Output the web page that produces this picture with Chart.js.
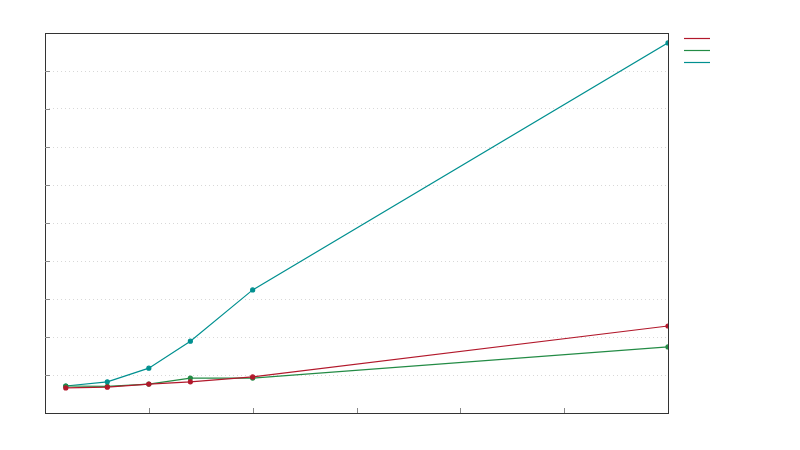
<!DOCTYPE html><html><head><script src="https://cdn.jsdelivr.net/npm/chart.js@4"></script>
<style>body{margin:0}#w{width:800px;height:450px}</style></head><body><div id="w"><canvas id="c"></canvas></div><script>
const xValues=[2,6,10,14,20,60];
const teal=[0.71,0.82,1.18,1.89,3.24,9.74];
const red=[0.66,0.68,0.76,0.82,0.95,2.29];
const green=[0.71,0.70,0.76,0.92,0.92,1.74];
const names=['','',''];
const colors=['#b2182b','#238b45','#009090'];
const mk=(d,c,n)=>({label:n,data:d.map((v,i)=>({x:xValues[i],y:v})),borderColor:c,backgroundColor:c,borderWidth:1.2,pointRadius:2,pointHoverRadius:2});
const deco={id:'deco',afterDraw(ch){const ctx=ch.ctx,a=ch.chartArea;ctx.save();ctx.strokeStyle='#333';ctx.lineWidth=1;ctx.strokeRect(a.left+.5,a.top+.5,a.right-a.left,a.bottom-a.top);
const xs=ch.scales.x,ys=ch.scales.y;ctx.strokeStyle='#888';
for(let v=10;v<60;v+=10){const p=Math.round(xs.getPixelForValue(v))+.5;ctx.beginPath();ctx.moveTo(p,a.bottom);ctx.lineTo(p,a.bottom-5);ctx.stroke();}
for(let v=1;v<10;v++){const p=Math.round(ys.getPixelForValue(v))+.5;ctx.beginPath();ctx.moveTo(a.left,p);ctx.lineTo(a.left+5,p);ctx.stroke();}
colors.forEach((c,i)=>{ctx.strokeStyle=c;ctx.lineWidth=1.2;ctx.beginPath();ctx.moveTo(684,38.5+12*i);ctx.lineTo(710,38.5+12*i);ctx.stroke();});
ctx.restore();}};
new Chart(document.getElementById('c'),{type:'line',data:{datasets:[mk(red,colors[0],names[0]),mk(green,colors[1],names[1]),mk(teal,colors[2],names[2])]},
options:{responsive:true,maintainAspectRatio:false,animation:false,layout:{padding:{left:45,right:132,top:33,bottom:29}},
plugins:{legend:{display:false},tooltip:{enabled:false}},
scales:{x:{type:'linear',min:0,max:60,ticks:{display:false,stepSize:10},grid:{display:false},border:{display:false}},
y:{min:0,max:10,ticks:{display:false,stepSize:1},grid:{color:'#d8d8d8',drawTicks:false,lineWidth:1},border:{display:false,dash:[1,3]}}}},plugins:[deco]});
</script></body></html>
